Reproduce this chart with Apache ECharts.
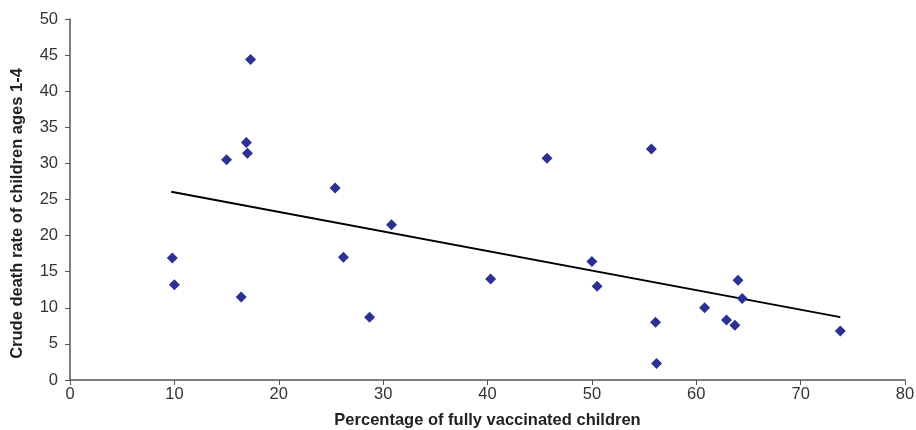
<!DOCTYPE html>
<html>
<head>
<meta charset="utf-8">
<script src="https://cdn.jsdelivr.net/npm/echarts@6/dist/echarts.min.js"></script>
<style>
html,body{margin:0;padding:0;background:#fff;}
#c{width:916px;height:430px;}
</style>
</head>
<body>
<div id="c"></div>
<script>
// Percentage of fully vaccinated children (x) and crude death rate ages 1-4 (y)
var vaccinated = [9.8, 10.0, 15.0, 16.4, 16.9, 17.0, 17.3, 25.4, 26.2, 28.7, 30.8, 40.3, 45.7, 50.0, 50.5, 55.7, 56.1, 56.2, 60.8, 62.9, 63.7, 64.0, 64.4, 73.8];
var deathRate  = [16.9, 13.2, 30.5, 11.5, 32.9, 31.4, 44.4, 26.6, 17.0, 8.7, 21.5, 14.0, 30.7, 16.4, 13.0, 32.0, 8.0, 2.3, 10.0, 8.3, 7.6, 13.8, 11.3, 6.8];
// Trend line end points
var trendX = [9.7, 73.8];
var trendY = [26.07, 8.71];
var xTicks = [0, 10, 20, 30, 40, 50, 60, 70, 80];
var yTicks = [0, 5, 10, 15, 20, 25, 30, 35, 40, 45, 50];

var points = vaccinated.map(function(v, i){ return [v, deathRate[i]]; });
var trend = trendX.map(function(v, i){ return [v, trendY[i]]; });

var chart = echarts.init(document.getElementById('c'), null, {renderer:'canvas'});
var axisColor = '#555';
var font = '"Liberation Sans", Arial, sans-serif';
chart.setOption({
  animation: false,
  grid: {left: 70, right: 11, top: 19, bottom: 50, containLabel: false, outerBoundsMode: 'none'},
  xAxis: {
    type: 'value', min: xTicks[0], max: xTicks[xTicks.length-1], interval: 10,
    name: 'Percentage of fully vaccinated children',
    nameLocation: 'middle', nameGap: 32,
    nameTextStyle: {fontFamily: font, fontWeight: 'bold', fontSize: 16.5, color: '#222'},
    axisLine: {show: true, onZero: false, lineStyle: {color: axisColor, width: 1.5}},
    axisTick: {show: true, length: 5, lineStyle: {color: axisColor}},
    axisLabel: {fontFamily: font, fontSize: 16.5, color: '#333', margin: 6},
    splitLine: {show: false}
  },
  yAxis: {
    type: 'value', min: yTicks[0], max: yTicks[yTicks.length-1], interval: 5,
    name: 'Crude death rate of children ages 1-4',
    nameLocation: 'middle', nameGap: 44,
    nameTextStyle: {fontFamily: font, fontWeight: 'bold', fontSize: 16.5, color: '#222', padding: [0, 0, 0, -28]},
    axisLine: {show: true, onZero: false, lineStyle: {color: axisColor, width: 1.5}},
    axisTick: {show: true, length: 5, lineStyle: {color: axisColor}},
    axisLabel: {fontFamily: font, fontSize: 16.5, color: '#333', margin: 12},
    splitLine: {show: false}
  },
  series: [
    {
      type: 'line', data: trend, symbol: 'none', silent: true,
      lineStyle: {color: '#000', width: 2}, z: 1
    },
    {
      type: 'scatter', data: points, symbol: 'diamond', symbolSize: 11,
      itemStyle: {color: '#2B3192', opacity: 1}, z: 2
    }
  ]
});
</script>
</body>
</html>
